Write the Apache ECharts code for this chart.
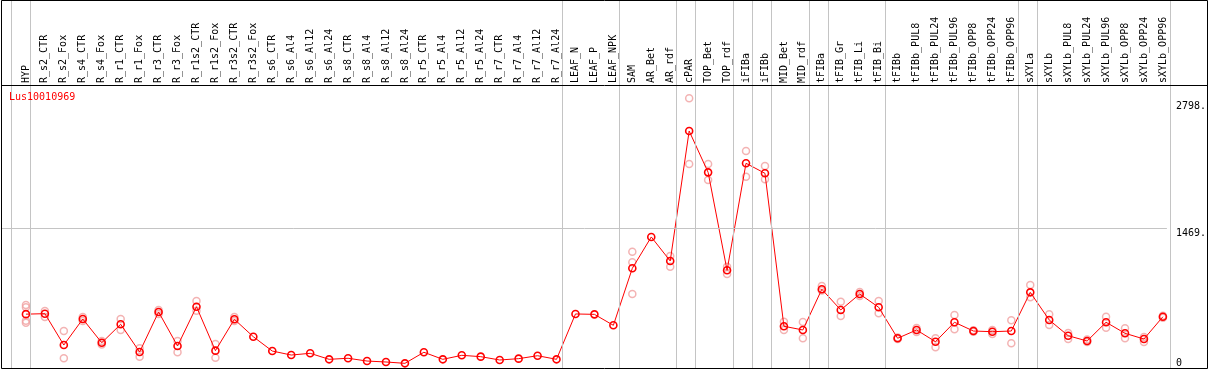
<!DOCTYPE html>
<html>
<head>
<meta charset="utf-8">
<script src="https://cdn.jsdelivr.net/npm/echarts@6/dist/echarts.min.js"></script>
<style>
html,body{margin:0;padding:0;background:#fff;}
#chart{width:1209px;height:370px;}
</style>
</head>
<body>
<div id="chart"></div>
<script>
const geneName = 'Lus10010969';
const categories = ['HYP','R_s2_CTR','R_s2_Fox','R_s4_CTR','R_s4_Fox','R_r1_CTR','R_r1_Fox','R_r3_CTR','R_r3_Fox','R_r1s2_CTR','R_r1s2_Fox','R_r3s2_CTR','R_r3s2_Fox','R_s6_CTR','R_s6_Al4','R_s6_Al12','R_s6_Al24','R_s8_CTR','R_s8_Al4','R_s8_Al12','R_s8_Al24','R_r5_CTR','R_r5_Al4','R_r5_Al12','R_r5_Al24','R_r7_CTR','R_r7_Al4','R_r7_Al12','R_r7_Al24','LEAF_N','LEAF_P','LEAF_NPK','SAM','AR_Bet','AR_rdf','cPAR','TOP_Bet','TOP_rdf','iFIBa','iFIBb','MID_Bet','MID_rdf','tFIBa','tFIB_Gr','tFIB_Li','tFIB_Bi','tFIBb','tFIBb_PUL8','tFIBb_PUL24','tFIBb_PUL96','tFIBb_OPP8','tFIBb_OPP24','tFIBb_OPP96','sXYLa','sXYLb','sXYLb_PUL8','sXYLb_PUL24','sXYLb_PUL96','sXYLb_OPP8','sXYLb_OPP24','sXYLb_OPP96'];
const meanValues = [565,570,241,514,265,459,168,588,231,643,182,511,328,178,136,154,91,102,73,63,49,165,91,133,119,84,98,129,91,567,563,448,1046,1375,1123,2487,2053,1025,2148,2043,438,399,826,609,776,637,312,399,276,480,388,381,388,794,504,339,283,480,364,304,538];
const replicateValues = [[661,637,496,476],[598,535],[388,102],[535,493],[283,247],[514,399],[207,119],[609,567],[283,165],[703,601],[252,108],[535,493],[],[],[],[],[],[],[],[],[],[],[],[],[],[],[],[],[],[],[],[],[1220,1109,776],[],[1175,1063],[2830,2141],[2141,1973],[1063,986],[2277,2007],[2120,1980],[486,399],[483,312],[860,813],[696,546],[797,755],[703,574],[320,305],[420,378],[312,217],[556,406],[395,380],[399,357],[501,259],[871,742],[563,451],[367,304],[299,273],[538,423],[417,312],[325,273],[548,528]];
// group separators drawn just after these category indices (-1 = before first)
const groupBreaks = [-1,0,28,31,34,35,37,38,39,41,42,45,52,53,60];
const yTickValues = [0,1469,2798];
const yTickLabels = ['0','1469.','2798.'];
const gridLineValue = 1469;

const FONT = 'DejaVu Sans Mono';
const xMin = -24/19, xMax = 60 + 4/19, sepOffset = 4/19;
const yMax = 2959;

const meanData = meanValues.map((v,i)=>[i,v]);
const repData = [];
replicateValues.forEach((arr,i)=>arr.forEach(v=>repData.push([i,v])));
const catIdx = categories.map((c,i)=>i);

const chart = echarts.init(document.getElementById('chart'), null, {renderer:'canvas'});
chart.setOption({
  animation:false,
  backgroundColor:'#fff',
  title:{text:geneName,left:9,top:92,padding:0,textStyle:{fontFamily:FONT,fontSize:10,fontWeight:'normal',color:'#ff0000'}},
  grid:[
    {left:2,right:39,top:86,bottom:2,containLabel:false},
    {left:2,right:39,top:0,bottom:2,containLabel:false}
  ],
  xAxis:[
    {type:'value',gridIndex:0,min:xMin,max:xMax,position:'top',
     axisLine:{show:false},axisTick:{show:false},splitLine:{show:false},
     axisLabel:{customValues:catIdx,formatter:v=>categories[Math.round(v)]||'',rotate:90,margin:3,
       fontFamily:FONT,fontSize:10,color:'#000'}},
    {type:'value',gridIndex:1,min:xMin,max:xMax,show:false}
  ],
  yAxis:[
    {type:'value',gridIndex:0,min:0,max:yMax,position:'right',
     axisLine:{show:false},axisTick:{show:false},splitLine:{show:false},
     axisLabel:{customValues:yTickValues.slice(1),formatter:v=>yTickLabels[yTickValues.indexOf(v)],
       verticalAlign:'top',align:'left',margin:9,fontFamily:FONT,fontSize:10,color:'#000'}},
    {type:'value',gridIndex:0,min:0,max:yMax,position:'right',
     axisLine:{show:false},axisTick:{show:false},splitLine:{show:false},
     axisLabel:{customValues:yTickValues.slice(0,1),formatter:v=>yTickLabels[yTickValues.indexOf(v)],
       verticalAlign:'bottom',align:'left',margin:9,fontFamily:FONT,fontSize:10,color:'#000'}},
    {type:'value',gridIndex:1,min:0,max:1,show:false}
  ],
  series:[
    {type:'line',xAxisIndex:1,yAxisIndex:2,data:[],silent:true,
     markLine:{silent:true,symbol:'none',label:{show:false},
       lineStyle:{color:'#c4c4c4',width:1,type:'solid'},
       data:groupBreaks.map(b=>({xAxis:b+sepOffset}))}},
    {type:'scatter',xAxisIndex:0,yAxisIndex:0,data:repData,symbol:'circle',symbolSize:7,clip:false,
     itemStyle:{color:'rgba(0,0,0,0)',borderColor:'#f0a0a0',borderWidth:1.5},
     markLine:{silent:true,symbol:'none',label:{show:false},
       lineStyle:{color:'#c4c4c4',width:1,type:'solid'},
       data:[{yAxis:gridLineValue}]}},
    {type:'line',xAxisIndex:0,yAxisIndex:0,data:meanData,symbol:'circle',symbolSize:7,showAllSymbol:true,clip:false,
     lineStyle:{color:'#ff0000',width:1},
     itemStyle:{color:'rgba(0,0,0,0)',borderColor:'#ff0000',borderWidth:1.6}}
  ],
  graphic:[
    {type:'rect',z:100,silent:true,shape:{x:1.5,y:0.5,width:1206,height:368},style:{fill:null,stroke:'#000',lineWidth:1}},
    {type:'line',z:100,silent:true,shape:{x1:1.5,y1:85.5,x2:1207.5,y2:85.5},style:{stroke:'#000',lineWidth:1}}
  ]
});
</script>
</body>
</html>
